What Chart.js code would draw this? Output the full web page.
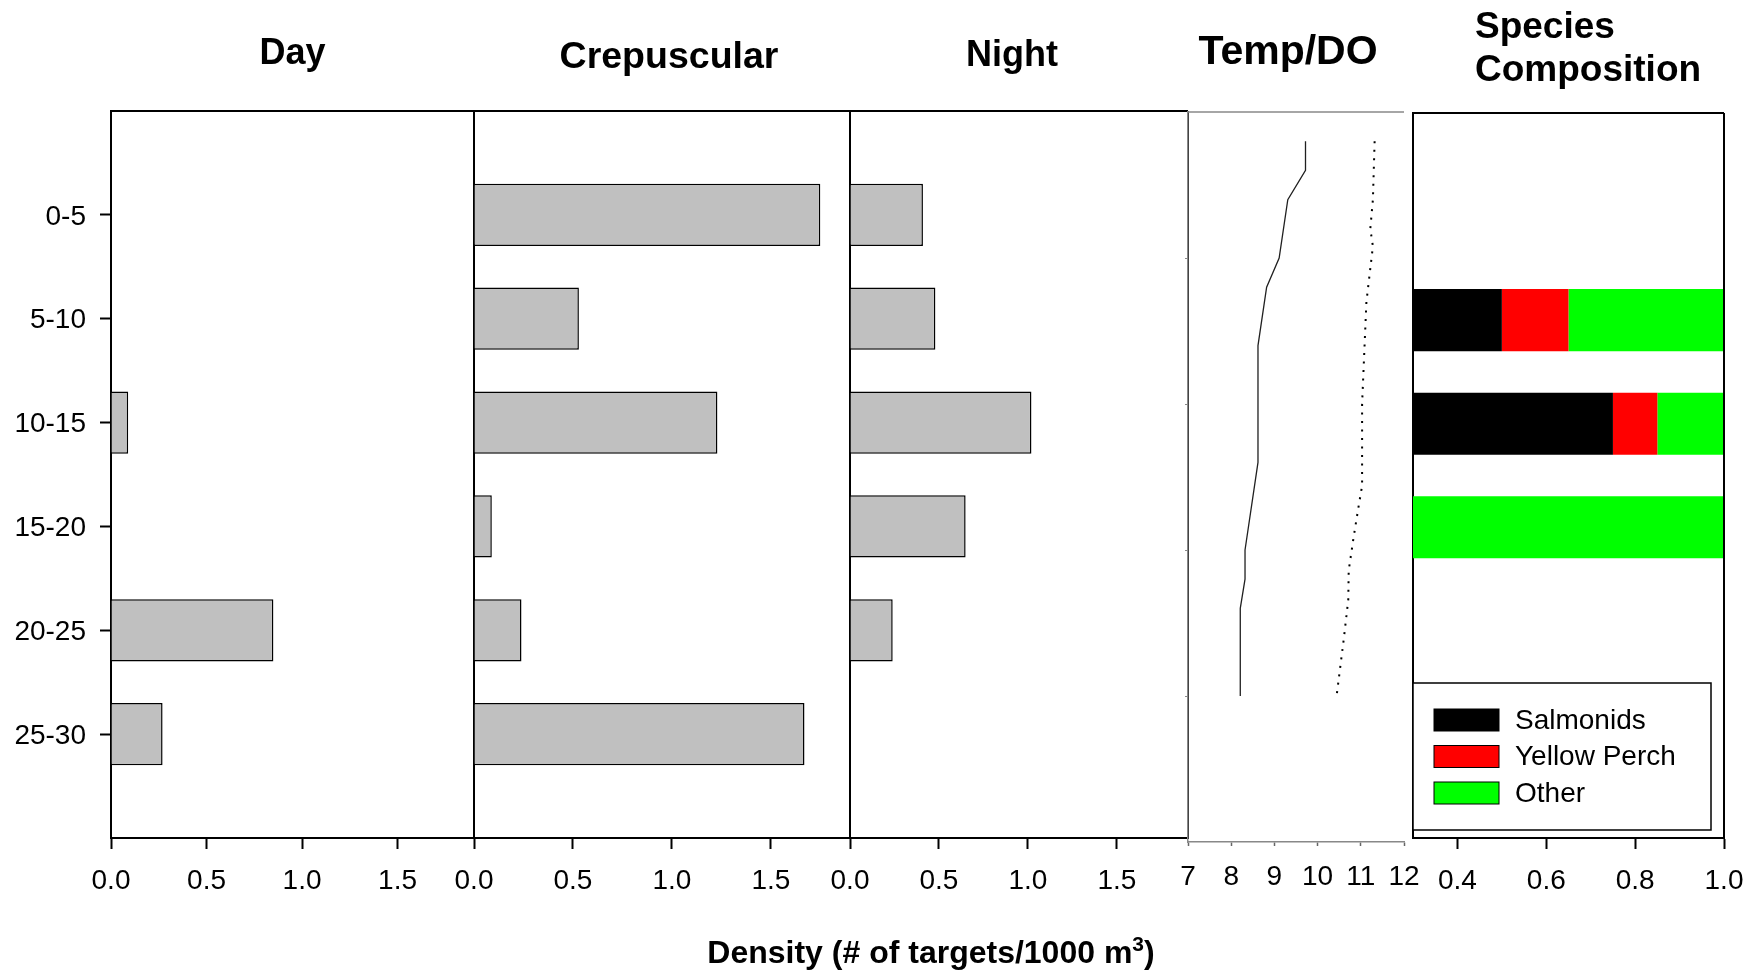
<!DOCTYPE html>
<html>
<head>
<meta charset="utf-8">
<title>Fish density by depth</title>
<script src="https://cdn.jsdelivr.net/npm/chart.js@4.4.0/dist/chart.umd.min.js"></script>
<style>
  html, body { margin: 0; background: #fff; overflow: hidden; }
  #wrap { position: relative; width: 1756px; height: 971px; overflow: hidden; font-family: "Liberation Sans", Arial, sans-serif; }
  #wrap canvas { position: absolute; top: 0; }
  #xTitle {
    position: absolute; left: 631px; width: 600px; top: 936px;
    text-align: center; font-weight: bold; font-size: 32px; line-height: 32px; color: #000;
  }
  #xTitle sup { font-size: 21px; line-height: 0; }
</style>
</head>
<body>
<div id="wrap">
  <canvas id="dayChart" width="494" height="971" style="left:0px"></canvas>
  <canvas id="crepChart" width="436" height="971" style="left:434px"></canvas>
  <canvas id="nightChart" width="398" height="971" style="left:810px"></canvas>
  <canvas id="tempChart" width="296" height="971" style="left:1148px"></canvas>
  <canvas id="speciesChart" width="391" height="971" style="left:1373px"></canvas>
  <div id="xTitle">Density (# of targets/1000 m<sup>3</sup>)</div>
</div>
<script>
// depth bins (m)
const depthBins = ['0-5', '5-10', '10-15', '15-20', '20-25', '25-30'];

// density, # of targets / 1000 m3
const dayDensity = [0, 0, 0.09, 0, 0.85, 0.27];
const crepDensity = [1.75, 0.53, 1.23, 0.09, 0.24, 1.67];
const nightDensity = [0.41, 0.48, 1.02, 0.65, 0.24, null];
const densityTicks = [0, 0.5, 1.0, 1.5];

// temperature / dissolved oxygen profiles
const tempDepth = [1, 2, 3, 5, 6, 8, 12, 15, 16, 17, 20];
const tempValues = [9.72, 9.72, 9.31, 9.11, 8.82, 8.62, 8.62, 8.32, 8.32, 8.21, 8.21];
const doDepth = [1, 3, 4, 4.6, 6.5, 10, 12.8, 13.5, 14.5, 15.7, 16.7, 18, 20];
const doValues = [11.32, 11.28, 11.22, 11.28, 11.13, 11.03, 11.03, 10.95, 10.84, 10.72, 10.71, 10.61, 10.44];
const tempTicks = [7, 8, 9, 10, 11, 12];
const profileDepthTicks = [5, 10, 15, 20];

// species composition (proportion)
const speciesNames = ['Salmonids', 'Yellow Perch', 'Other'];
const salmonids = [0, 0.5, 0.75, 0, 0, 0];
const yellowPerch = [0, 0.15, 0.10, 0, 0, 0];
const otherFish = [0, 0.35, 0.15, 1.0, 0, 0];
const speciesTicks = [0.4, 0.6, 0.8, 1.0];
const speciesColors = ['#000000', '#ff0000', '#00ff00'];

const panelTitles = {
  day: ['Day'],
  crep: ['Crepuscular'],
  night: ['Night'],
  temp: ['Temp/DO'],
  species: ['Species', 'Composition'],
};

const FONT = '"Liberation Sans", Arial, sans-serif';
Chart.defaults.font.family = FONT;
Chart.defaults.color = '#000';

const tickFont = { family: FONT, size: 28 };
const CANVAS_H = 971;

// empty slot above and below the depth bins
const paddedLabels = ['', ...depthBins, ''];
const pad = (arr) => [null, ...arr, null];

const panelTitlePlugin = {
  id: 'panelTitle',
  afterDraw(chart, args, opts) {
    const { ctx, chartArea } = chart;
    const lines = panelTitles[opts.key];
    ctx.save();
    ctx.font = 'bold ' + opts.size + 'px ' + FONT;
    ctx.fillStyle = '#000';
    ctx.textBaseline = 'alphabetic';
    let x;
    if (opts.align === 'left') {
      ctx.textAlign = 'left';
      x = chartArea.left + opts.dx;
    } else {
      ctx.textAlign = 'center';
      x = (chartArea.left + chartArea.right) / 2 + opts.dx;
    }
    lines.forEach((t, i) => ctx.fillText(t, x, opts.baseline + i * opts.lineGap));
    ctx.restore();
  },
};

const framePlugin = {
  id: 'frame',
  afterDraw(chart, args, opts) {
    const { ctx, chartArea: a } = chart;
    ctx.save();
    ctx.strokeStyle = opts.color;
    ctx.lineWidth = opts.width;
    ctx.beginPath();
    if (opts.top) { ctx.moveTo(a.left, a.top); ctx.lineTo(a.right, a.top); }
    if (opts.right) { ctx.moveTo(a.right, a.top); ctx.lineTo(a.right, a.bottom); }
    ctx.stroke();
    ctx.restore();
  },
};

const speciesLegendPlugin = {
  id: 'speciesLegend',
  afterDraw(chart) {
    const { ctx, chartArea: a } = chart;
    const left = a.left, right = a.right - 13;
    const top = a.bottom - 155, bottom = a.bottom - 8;
    ctx.save();
    ctx.fillStyle = '#fff';
    ctx.fillRect(left, top, right - left, bottom - top);
    ctx.strokeStyle = '#000';
    ctx.lineWidth = 1.5;
    ctx.strokeRect(left, top, right - left, bottom - top);
    ctx.font = '28px ' + FONT;
    ctx.textBaseline = 'middle';
    ctx.textAlign = 'left';
    chart.data.datasets.forEach((ds, i) => {
      const y = top + 37 + i * 36.5;
      ctx.fillStyle = ds.backgroundColor;
      ctx.fillRect(left + 21, y - 11, 65, 22);
      ctx.lineWidth = 1;
      ctx.strokeRect(left + 21, y - 11, 65, 22);
      ctx.fillStyle = '#000';
      ctx.fillText(ds.label, left + 102, y + 1);
    });
    ctx.restore();
  },
};

function densityChart(id, data, opts) {
  const ctx = document.getElementById(id).getContext('2d');
  return new Chart(ctx, {
    type: 'bar',
    data: {
      labels: paddedLabels,
      datasets: [{
        label: opts.title,
        data: pad(data),
        backgroundColor: '#c0c0c0',
        borderColor: '#000',
        borderWidth: 1.5,
        categoryPercentage: 1,
        barPercentage: 0.6,
      }],
    },
    options: {
      indexAxis: 'y',
      responsive: false,
      animation: false,
      layout: { padding: { top: 111, right: 20, left: 0, bottom: 0 } },
      plugins: {
        legend: { display: false },
        tooltip: { enabled: false },
        panelTitle: opts.titleOpts,
        frame: { color: '#000', width: 2, top: true, right: true },
      },
      scales: {
        x: {
          type: 'linear',
          min: 0,
          max: 1.9,
          afterBuildTicks: (s) => { s.ticks = densityTicks.map((v) => ({ value: v })); },
          afterFit: (s) => { s.height = CANVAS_H - 838; },
          grid: { drawOnChartArea: false, drawTicks: true, tickLength: 11, tickWidth: 2, tickColor: '#000' },
          border: { color: '#000', width: 2 },
          ticks: { font: tickFont, color: '#000', padding: 15, maxRotation: 0, autoSkip: false,
            callback: (v) => Number(v).toFixed(1) },
        },
        y: {
          type: 'category',
          offset: false,
          afterFit: (s) => { s.width = opts.yWidth; },
          grid: {
            offset: false,
            drawOnChartArea: false,
            drawTicks: opts.showLabels,
            tickLength: 11,
            tickWidth: 2,
            tickColor: (c) => (c.tick && c.tick.label ? '#000' : 'rgba(0,0,0,0)'),
          },
          border: { color: '#000', width: 2 },
          ticks: { display: opts.showLabels, font: tickFont, color: '#000', padding: 14, labelOffset: 2, autoSkip: false },
        },
      },
    },
    plugins: [panelTitlePlugin, framePlugin],
  });
}

densityChart('dayChart', dayDensity, {
  title: 'Day', yWidth: 111, showLabels: true,
  titleOpts: { key: 'day', size: 36, dx: 0, baseline: 64, lineGap: 0 },
});
densityChart('crepChart', crepDensity, {
  title: 'Crepuscular', yWidth: 40, showLabels: false,
  titleOpts: { key: 'crep', size: 37.5, dx: 7, baseline: 68, lineGap: 0 },
});
densityChart('nightChart', nightDensity, {
  title: 'Night', yWidth: 40, showLabels: false,
  titleOpts: { key: 'night', size: 36, dx: -7, baseline: 66, lineGap: 0 },
});

// Temp / DO profile
new Chart(document.getElementById('tempChart').getContext('2d'), {
  type: 'scatter',
  data: {
    datasets: [
      {
        label: 'Temperature',
        data: tempDepth.map((d, i) => ({ x: tempValues[i], y: d })),
        showLine: true,
        borderColor: '#202020',
        borderWidth: 1.3,
        pointRadius: 0,
      },
      {
        label: 'DO',
        data: doDepth.map((d, i) => ({ x: doValues[i], y: d })),
        showLine: true,
        borderColor: '#000',
        borderWidth: 2,
        borderDash: [2, 6.5],
        pointRadius: 0,
      },
    ],
  },
  options: {
    responsive: false,
    animation: false,
    layout: { padding: { top: 112, right: 40, left: 0, bottom: 0 } },
    plugins: {
      legend: { display: false },
      tooltip: { enabled: false },
      panelTitle: { key: 'temp', size: 41, dx: -8, baseline: 64, lineGap: 0 },
      frame: { color: '#888', width: 1.5, top: true, right: false },
    },
    scales: {
      x: {
        type: 'linear',
        min: 7,
        max: 12,
        afterBuildTicks: (s) => { s.ticks = tempTicks.map((v) => ({ value: v })); },
        afterFit: (s) => { s.height = CANVAS_H - 842; },
        grid: { drawOnChartArea: false, drawTicks: true, tickLength: 4, tickWidth: 1.5, tickColor: '#666' },
        border: { color: '#888', width: 1.5 },
        ticks: { font: tickFont, color: '#000', padding: 14, maxRotation: 0, autoSkip: false },
      },
      y: {
        type: 'linear',
        min: 0,
        max: 25,
        reverse: true,
        afterBuildTicks: (s) => { s.ticks = profileDepthTicks.map((v) => ({ value: v })); },
        afterFit: (s) => { s.width = 40; },
        grid: { drawOnChartArea: false, drawTicks: true, tickLength: 3, tickWidth: 1, tickColor: '#888' },
        border: { color: '#888', width: 1.5 },
        ticks: { display: false },
      },
    },
  },
  plugins: [panelTitlePlugin, framePlugin],
});

// Species composition
const speciesSeries = [salmonids, yellowPerch, otherFish];
new Chart(document.getElementById('speciesChart').getContext('2d'), {
  type: 'bar',
  data: {
    labels: paddedLabels,
    datasets: speciesNames.map((name, i) => ({
      label: name,
      data: pad(speciesSeries[i]),
      backgroundColor: speciesColors[i],
      borderWidth: 0,
      categoryPercentage: 1,
      barPercentage: 0.6,
    })),
  },
  options: {
    indexAxis: 'y',
    responsive: false,
    animation: false,
    layout: { padding: { top: 113, right: 40, left: 0, bottom: 0 } },
    plugins: {
      legend: { display: false },
      tooltip: { enabled: false },
      panelTitle: { key: 'species', size: 37, dx: 62, baseline: 38, lineGap: 43, align: 'left' },
      frame: { color: '#000', width: 2, top: true, right: true },
    },
    scales: {
      x: {
        type: 'linear',
        stacked: true,
        min: 0.3,
        max: 1.0,
        afterBuildTicks: (s) => { s.ticks = speciesTicks.map((v) => ({ value: v })); },
        afterFit: (s) => { s.height = CANVAS_H - 838; },
        grid: { drawOnChartArea: false, drawTicks: true, tickLength: 11, tickWidth: 2, tickColor: '#000' },
        border: { color: '#000', width: 2 },
        ticks: { font: tickFont, color: '#000', padding: 15, maxRotation: 0, autoSkip: false,
          callback: (v) => Number(v).toFixed(1) },
      },
      y: {
        type: 'category',
        stacked: true,
        offset: false,
        afterFit: (s) => { s.width = 40; },
        grid: { drawOnChartArea: false, drawTicks: false },
        border: { color: '#000', width: 2 },
        ticks: { display: false },
      },
    },
  },
  plugins: [panelTitlePlugin, framePlugin, speciesLegendPlugin],
});
</script>
</body>
</html>
